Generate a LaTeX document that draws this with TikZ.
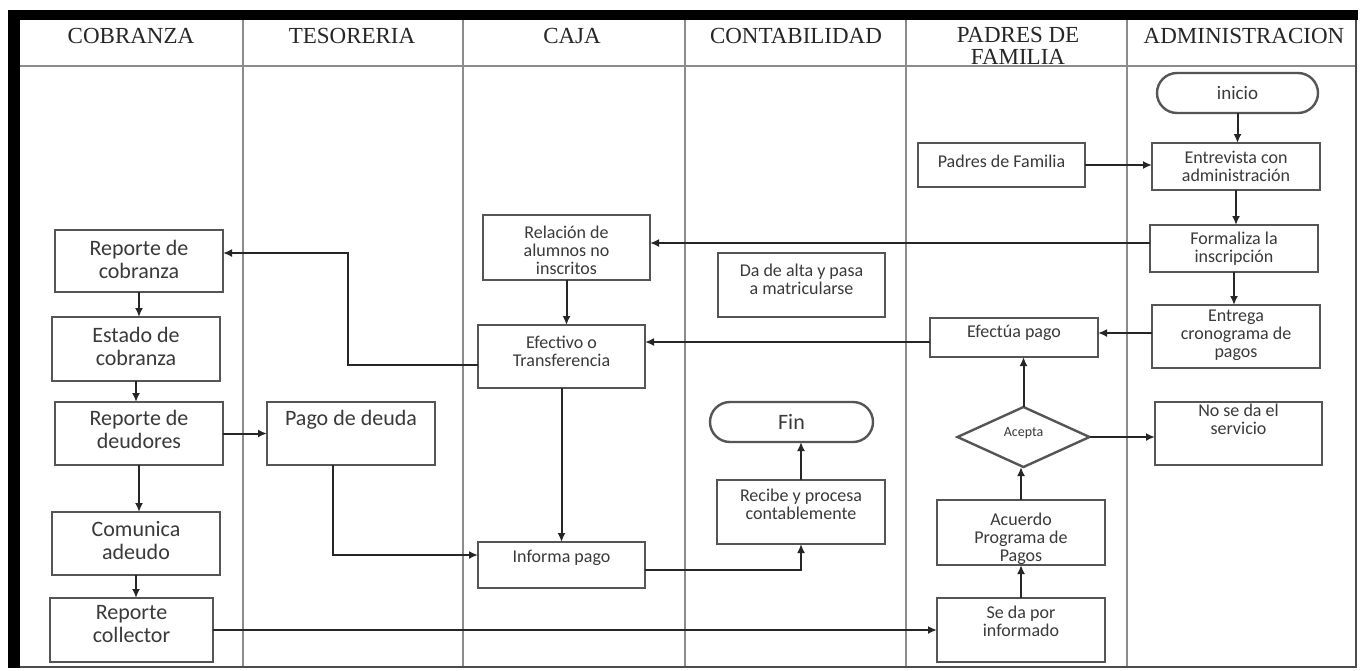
\documentclass[tikz,border=0pt]{standalone}
\usepackage{fontspec}
\setmainfont{Liberation Serif}
\newfontfamily\bfnt{Carlito}
\usetikzlibrary{arrows.meta,shapes.geometric,shapes.misc}
\definecolor{lane}{HTML}{8C8C8C}
\definecolor{bord}{HTML}{555555}
\definecolor{conn}{HTML}{262626}
\definecolor{txtc}{HTML}{3A3A3A}
\begin{document}
\begin{tikzpicture}[x=0.5pt,y=-0.5pt,
  box/.style={draw=bord,line width=1.2pt,inner sep=0pt,outer sep=0pt,fill=white},
  term/.style={box,rounded rectangle},
  dia/.style={box,diamond},
  big/.style={font=\bfnt\fontsize{11}{11.5}\selectfont,text=txtc,align=center,inner sep=0pt},
  sml/.style={font=\bfnt\fontsize{9}{9}\selectfont,text=txtc,align=center,inner sep=0pt},
  tiny/.style={font=\bfnt\fontsize{7}{7}\selectfont,text=txtc,align=center,inner sep=0pt},
  hdr/.style={font=\fontsize{11.5}{11}\selectfont,text=black!85,align=center,inner sep=0pt},
  arr/.style={draw=conn,line width=1pt,-{Latex[length=4.5pt,width=4pt]}},
  lanel/.style={draw=lane,line width=0.6pt},
]
\useasboundingbox (0,0) rectangle (1360,670);
% frame
\fill[white] (0,0) rectangle (1360,670);
\draw[lanel] (20,66) -- (1355,66);
\foreach \xx in {243,463,685,906,1127} \draw[lanel] (\xx,20) -- (\xx,666);
\fill[black] (8,10) rectangle (1358,20);
\fill[black] (8,10) rectangle (20,668);
\draw[black!70,line width=1.4pt] (1356,20) -- (1356,667) -- (20,667);

% headers
\node[hdr] (h1) at (131,36) {COBRANZA};
\node[hdr] (h2) at (352,36) {TESORERIA};
\node[hdr] (h3) at (572,36) {CAJA};
\node[hdr] (h4) at (796,36) {CONTABILIDAD};
\node[hdr] (h5) at (1018,46) {PADRES DE\\FAMILIA};
\node[hdr] (h6) at (1244,36) {ADMINISTRACION};

% COBRANZA
\node[box,minimum width=84pt,minimum height=31pt] (repcob) at (139,261) {};
\node[big] (trepcob) at (139,259) {Reporte de\\cobranza};
\node[box,minimum width=84pt,minimum height=32pt] (estado) at (136,349) {};
\node[big] (testado) at (136,346) {Estado de\\cobranza};
\node[box,minimum width=84pt,minimum height=31.5pt] (repdeu) at (139,433.5) {};
\node[big] (trepdeu) at (139,429.5) {Reporte de\\deudores};
\node[box,minimum width=84pt,minimum height=31.5pt] (comun) at (136,543.5) {};
\node[big] (tcomun) at (136,541) {Comunica\\adeudo};
\node[box,minimum width=81.5pt,minimum height=32pt] (repcol) at (131.5,630) {};
\node[big] (trepcol) at (131.5,624) {Reporte\\collector};

% TESORERIA
\node[box,minimum width=84pt,minimum height=31.5pt] (pago) at (351,433.5) {};
\node[big] (tpago) at (351,420) {Pago de deuda};

% CAJA
\node[box,minimum width=83.5pt,minimum height=32.5pt] (rel) at (566.5,247.5) {};
\node[sml] (trel) at (566.5,250) {Relación de\\alumnos no\\inscritos};
\node[box,minimum width=83.5pt,minimum height=31.5pt] (efect) at (561.5,356.5) {};
\node[sml] (tefect) at (561.5,351) {Efectivo o\\Transferencia};
\node[box,minimum width=83.5pt,minimum height=23pt] (inform) at (561.5,565) {};
\node[sml] (tinform) at (561.5,558) {Informa pago};

% CONTABILIDAD
\node[box,minimum width=83.5pt,minimum height=32pt] (alta) at (801.5,285) {};
\node[sml] (talta) at (801.5,279) {Da de alta y pasa\\a matricularse};
\node[term,minimum width=81.5pt,minimum height=20pt] (fin) at (791.5,422) {};
\node[big] (tfin) at (791.5,422) {Fin};
\node[box,minimum width=84pt,minimum height=32pt] (recibe) at (801,512) {};
\node[sml] (trecibe) at (801,504) {Recibe y procesa\\contablemente};

% PADRES DE FAMILIA
\node[box,minimum width=83.5pt,minimum height=22pt] (padres) at (1001.5,165) {};
\node[sml] (tpadres) at (1001.5,161) {Padres de Familia};
\node[box,minimum width=84pt,minimum height=19.5pt] (efectua) at (1014,337.5) {};
\node[sml] (tefectua) at (1014,333) {Efectúa pago};
\node[dia,minimum width=66pt,minimum height=30pt] (acepta) at (1023.5,437) {};
\node[tiny] (tacepta) at (1023.5,433) {Acepta};
\node[box,minimum width=84pt,minimum height=32.5pt] (acuerdo) at (1021,532.5) {};
\node[sml] (tacuerdo) at (1021,539) {Acuerdo\\Programa de\\Pagos};
\node[box,minimum width=84pt,minimum height=32pt] (seda) at (1021,630) {};
\node[sml] (tseda) at (1021,621) {Se da por\\informado};

% ADMINISTRACION
\node[term,minimum width=80.5pt,minimum height=20pt] (inicio) at (1237.5,93) {};
\node[sml,font=\bfnt\fontsize{9.5}{9.5}\selectfont] (tinicio) at (1237.5,93) {inicio};
\node[box,minimum width=84pt,minimum height=23.5pt] (entrev) at (1236,166.5) {};
\node[sml] (tentrev) at (1236,166.5) {Entrevista con\\administración};
\node[box,minimum width=84pt,minimum height=23.5pt] (form) at (1234,248.5) {};
\node[sml] (tform) at (1234,249) {Formaliza la\\inscripción};
\node[box,minimum width=84pt,minimum height=31.5pt] (entrega) at (1236,336.5) {};
\node[sml] (tentrega) at (1236,335) {Entrega\\cronograma de\\pagos};
\node[box,minimum width=83.5pt,minimum height=31.5pt] (nose) at (1238.5,433.5) {};
\node[sml] (tnose) at (1238.5,419) {No se da el\\servicio};

\coordinate (k1) at (348,253);

% connectors
\draw[arr] (inicio.south) -- (inicio.south |- entrev.north);
\draw[arr] (entrev.south) -- (entrev.south |- form.north);
\draw[arr] (form.south) -- (form.south |- entrega.north);
\draw[arr] (padres.east) -- (padres.east -| entrev.west);
\draw[arr] ([yshift=2.75pt]form.west) -- ([yshift=2.75pt]form.west -| rel.east);
\draw[arr] ([yshift=1.75pt]entrega.west) -- ([yshift=1.75pt]entrega.west -| efectua.east);
\draw[arr] ([yshift=-2.25pt]efectua.west) -- ([yshift=-2.25pt]efectua.west -| efect.east);
\draw[arr] (rel.south) -- (rel.south |- efect.north);
\draw[arr] (efect.south) -- (efect.south |- inform.north);
\draw[arr] ([yshift=-4.25pt]efect.west) -| (k1) -- ([yshift=4pt]repcob.east);
\draw[arr] (repcob.south) -- (repcob.south |- estado.north);
\draw[arr] (estado.south) -- (estado.south |- repdeu.north);
\draw[arr] (repdeu.east) -- (repdeu.east -| pago.west);
\draw[arr] (repdeu.south) -- (repdeu.south |- comun.north);
\draw[arr] (comun.south) -- (comun.south |- repcol.north);
\draw[arr] (repcol.east) -- (repcol.east -| seda.west);
\draw[arr] ([xshift=-9pt]pago.south) |- ([yshift=5pt]inform.west);
\draw[arr] ([yshift=-2.5pt]inform.east) -| (recibe.south);
\draw[arr] (recibe.north) -- (recibe.north |- fin.south);
\draw[arr] (seda.north) -- (seda.north |- acuerdo.south);
\draw[arr] (acuerdo.north) -- (acuerdo.north |- acepta.south);
\draw[arr] (acepta.north) -- (acepta.north |- efectua.south);
\draw[arr] (acepta.east) -- (acepta.east -| nose.west);
\end{tikzpicture}
\end{document}
